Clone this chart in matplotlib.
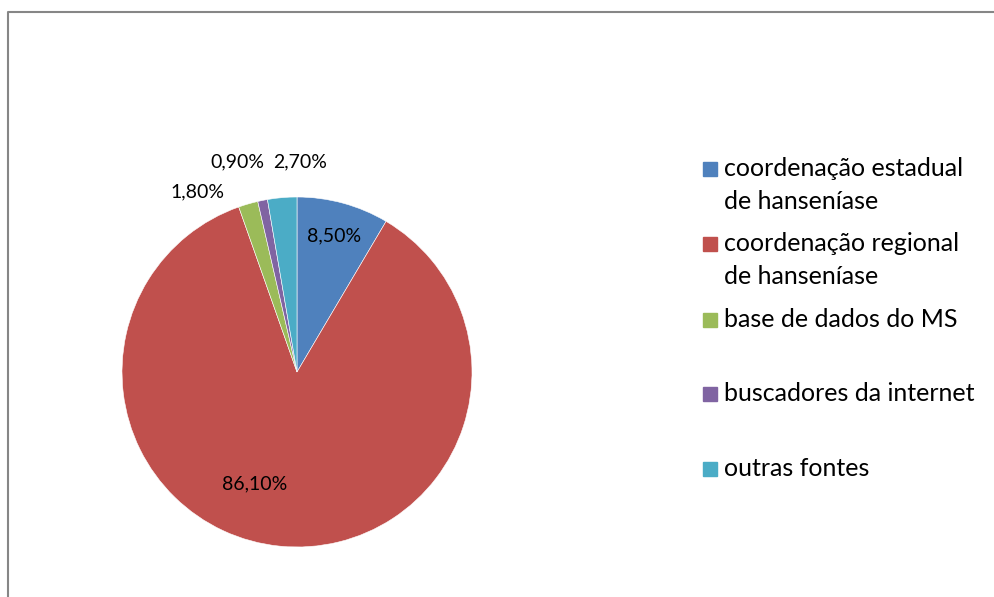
import matplotlib.pyplot as plt
from matplotlib.patches import Rectangle
from matplotlib.lines import Line2D

plt.rcParams['font.family'] = ['Lato', 'DejaVu Sans']

# dados
categorias = ['coordenação estadual\nde hanseníase',
              'coordenação regional\nde hanseníase',
              'base de dados do MS',
              'buscadores da internet',
              'outras fontes']
valores = [8.5, 86.1, 1.8, 0.9, 2.7]
cores = ['#4F81BD', '#C0504D', '#9BBB59', '#8064A2', '#4BACC6']

# posição dos rótulos (pixels, origem no topo)
pos_rotulos = [(334, 236), (255, 484), (197, 192), (237, 162), (300, 162)]

W, H = 994, 597
fig = plt.figure(figsize=(W / 100, H / 100), dpi=100, facecolor='white')
ax = fig.add_axes([0, 0, 1, 1])

ax.pie(valores, colors=cores, startangle=90, counterclock=False,
       center=(297, H - 372), radius=175, frame=True,
       wedgeprops=dict(edgecolor='white', linewidth=0.4))
ax.set_xlim(0, W)
ax.set_ylim(0, H)
ax.set_aspect('equal')
ax.axis('off')

# moldura
ax.add_line(Line2D([8, 8, W], [0, H - 12, H - 12], color='#868686', lw=1.5))

for v, (x, y) in zip(valores, pos_rotulos):
    txt = f'{v:.2f}%'.replace('.', ',')
    ax.text(x, H - y, txt, fontsize=14, ha='center', va='center', color='black')

# legenda
for i, (cat, cor) in enumerate(zip(categorias, cores)):
    y = 169 + i * 75
    if i == 2:
        y += 1
    ax.add_patch(Rectangle((703, H - y - 7), 14, 14, color=cor))
    ax.text(724, H - y + 12, cat, fontsize=18, ha='left', va='top',
            linespacing=1.55, color='black')

fig.savefig('out.png', dpi=100, facecolor='white')
